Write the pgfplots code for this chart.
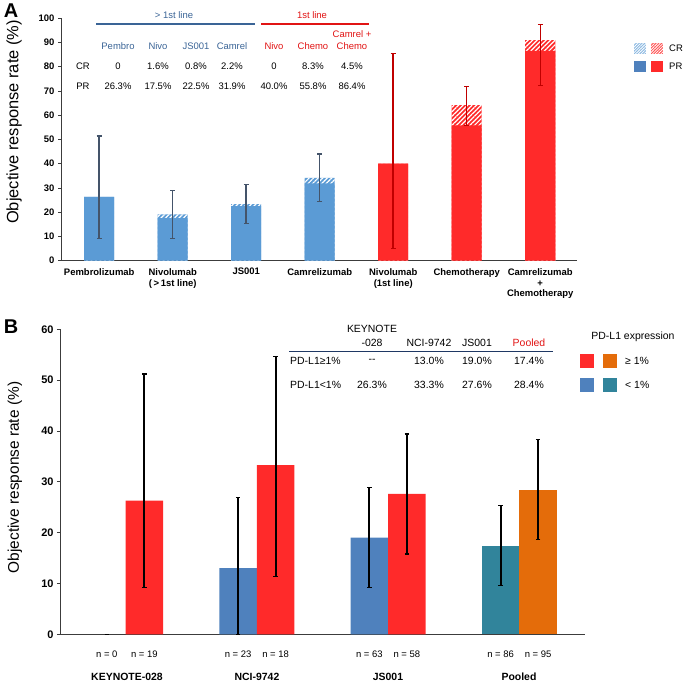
\documentclass[border=0pt]{standalone}
\usepackage{pgfplots}
\pgfplotsset{compat=1.18}
\usepackage{fontspec}
\setmainfont{Liberation Sans}
\usetikzlibrary{patterns.meta}
\definecolor{barblue}{RGB}{91,155,213}
\definecolor{barred}{RGB}{255,42,42}
\definecolor{errblue}{RGB}{68,84,106}
\definecolor{errred}{RGB}{192,0,0}
\definecolor{hdrblue}{RGB}{58,100,150}
\definecolor{hdrred}{RGB}{225,20,20}
\definecolor{Bblue}{RGB}{79,129,189}
\definecolor{Bteal}{RGB}{49,132,155}
\definecolor{Borange}{RGB}{228,108,10}
\definecolor{axgray}{RGB}{60,60,60}
\definecolor{navy}{RGB}{31,56,100}
\newcommand{\fs}[1]{\fontsize{#1}{#1}\selectfont}
\begin{document}
\begin{tikzpicture}
\path[use as bounding box] (0,0) rectangle (685bp,681bp);
% ---------------- Panel A ----------------
\begin{axis}[
  at={(61bp,420.3bp)}, anchor=south west,
  scale only axis, width=516bp, height=242.7bp,
  xmin=-0.52, xmax=6.5, ymin=0, ymax=100,
  axis x line*=bottom, axis y line*=left,
  axis line style={axgray, line width=0.8pt},
  ytick={0,10,...,100},
  /pgf/number format/assume math mode=true,
  yticklabel style={font=\fs{9.5pt}\bfseries},
  tick align=outside, major tick length=3bp,
  ytick style={axgray, line width=0.6pt},
  xtick={0,...,6},
  xticklabels={Pembrolizumab, Nivolumab\\(\,>\,1st line), JS001, Camrelizumab, Nivolumab\\(1st line), Chemotherapy, Camrelizumab\\+\\Chemotherapy},
  xticklabel style={font=\fontsize{9.5pt}{11pt}\selectfont\bfseries, align=center, yshift=-1bp},
  xtick style={draw=none},
  bar width=30bp, bar shift=0pt,
]
\addplot[ybar, fill=barblue, draw=none] coordinates {(0,26.3)(1,19.1)(2,23.3)(3,34.1)};
\addplot[ybar, fill=barred, draw=none] coordinates {(4,40.0)(5,64.1)(6,90.9)};
\addplot[ybar, draw=none, pattern={Lines[angle=45,distance=3.2pt,line width=1.2pt]}, pattern color=white]
  coordinates {(0,26.3)(1,19.1)(2,23.3)(3,34.1)(4,40.0)(5,64.1)(6,90.9)};
\addplot[ybar, fill=barblue, draw=none] coordinates {(0,26.3)(1,17.5)(2,22.5)(3,31.9)};
\addplot[ybar, fill=barred, draw=none] coordinates {(4,40.0)(5,55.8)(6,86.4)};
\addplot[draw=none, mark=none,
  error bars/.cd, y dir=both, y explicit,
  error bar style={draw=errblue, line width=1.5pt},
  error mark options={draw=errblue, rotate=90, mark size=2.5bp, line width=1.2pt}]
  coordinates {
  (0,26.3) += (0,25.1) -= (0,17.2)
  (1,19.1) += (0,9.7) -= (0,9.9)
  (2,23.3) += (0,8.0) -= (0,7.9)
  (3,34.1) += (0,9.9) -= (0,9.7)
  };
\addplot[draw=none, mark=none,
  error bars/.cd, y dir=both, y explicit,
  error bar style={draw=errred, line width=1.5pt},
  error mark options={draw=errred, rotate=90, mark size=2.5bp, line width=1.2pt}]
  coordinates {
  (4,40.0) += (0,45.3) -= (0,34.9)
  (5,64.1) += (0,7.8) -= (0,8.3)
  (6,90.9) += (0,6.5) -= (0,18.7)
  };
\end{axis}
\node[font=\fs{20pt}\bfseries] at (11bp,670.5bp) {A};
\node[rotate=90, font=\fs{16.5pt}] at (14bp,559bp) {Objective response rate (\%)};
% table A
\begin{scope}[every node/.style={font=\fs{9.5pt}}]
\node[text=hdrblue] at (174bp,666bp) {> 1st line};
\draw[hdrblue, line width=1.2pt] (96bp,657bp) -- (255bp,657bp);
\node[text=hdrred] at (312bp,666bp) {1st line};
\draw[hdrred, line width=1.2pt] (261bp,657bp) -- (369bp,657bp);
\node[text=hdrblue] at (118bp,635bp) {Pembro};
\node[text=hdrblue] at (158bp,635bp) {Nivo};
\node[text=hdrblue] at (196bp,635bp) {JS001};
\node[text=hdrblue] at (232bp,635bp) {Camrel};
\node[text=hdrred] at (274bp,635bp) {Nivo};
\node[text=hdrred] at (313bp,635bp) {Chemo};
\node[text=hdrred] at (352bp,647bp) {Camrel +};
\node[text=hdrred] at (352bp,635bp) {Chemo};
\node at (83bp,615bp) {CR};
\node at (118bp,615bp) {0};
\node at (158bp,615bp) {1.6\%};
\node at (196bp,615bp) {0.8\%};
\node at (232bp,615bp) {2.2\%};
\node at (274bp,615bp) {0};
\node at (313bp,615bp) {8.3\%};
\node at (352bp,615bp) {4.5\%};
\node at (83bp,595bp) {PR};
\node at (118bp,595bp) {26.3\%};
\node at (158bp,595bp) {17.5\%};
\node at (196bp,595bp) {22.5\%};
\node at (232bp,595bp) {31.9\%};
\node at (274bp,595bp) {40.0\%};
\node at (313bp,595bp) {55.8\%};
\node at (352bp,595bp) {86.4\%};
% legend A
\fill[barblue!70] (634bp,627bp) rectangle (646bp,638bp);
\fill[pattern={Lines[angle=45,distance=2pt,line width=0.8pt]}, pattern color=white] (634bp,627bp) rectangle (646bp,638bp);
\fill[barred!80] (651bp,627bp) rectangle (663bp,638bp);
\fill[pattern={Lines[angle=45,distance=2pt,line width=0.8pt]}, pattern color=white] (651bp,627bp) rectangle (663bp,638bp);
\fill[Bblue] (634bp,609bp) rectangle (646bp,620bp);
\fill[barred] (651bp,609bp) rectangle (663bp,620bp);
\node[anchor=west, inner sep=0pt] at (669bp,632.5bp) {CR};
\node[anchor=west, inner sep=0pt] at (669bp,614.5bp) {PR};
\end{scope}
% ---------------- Panel B ----------------
\begin{axis}[
  at={(60bp,46.7bp)}, anchor=south west,
  scale only axis, width=525bp, height=305bp,
  xmin=-0.5, xmax=3.5, ymin=0, ymax=60,
  axis x line*=bottom, axis y line*=left,
  axis line style={axgray, line width=0.8pt},
  ytick={0,10,...,60},
  /pgf/number format/assume math mode=true,
  yticklabel style={font=\fs{11pt}\bfseries},
  tick align=outside, major tick length=3bp,
  ytick style={axgray, line width=0.6pt},
  xtick={-0.143,0.143,0.857,1.143,1.857,2.143,2.857,3.143},
  xticklabels={n = 0, n = 19, n = 23, n = 18, n = 63, n = 58, n = 86, n = 95},
  xticklabel style={font=\fs{9.5pt}, yshift=-10bp},
  xtick style={draw=none},
  bar width=37.5bp, bar shift=0pt,
]
\addplot[ybar, fill=Bblue, draw=none] coordinates {(0.857,13.0)(1.857,19.0)};
\addplot[ybar, fill=Bteal, draw=none] coordinates {(2.857,17.4)};
\addplot[ybar, fill=barred, draw=none] coordinates {(0.143,26.3)(1.143,33.3)(2.143,27.6)};
\addplot[ybar, fill=Borange, draw=none] coordinates {(3.143,28.4)};
\addplot[draw=none, mark=none,
  error bars/.cd, y dir=both, y explicit,
  error bar style={draw=black, line width=2pt},
  error mark options={draw=black, rotate=90, mark size=2.2bp, line width=1.2pt}]
  coordinates {
  (-0.143,0) += (0,0) -= (0,0)
  (0.143,26.3) += (0,24.9) -= (0,17.1)
  (0.857,13.0) += (0,13.9) -= (0,13.0)
  (1.143,33.3) += (0,21.3) -= (0,22.0)
  (1.857,19.0) += (0,9.8) -= (0,9.8)
  (2.143,27.6) += (0,11.8) -= (0,11.8)
  (2.857,17.4) += (0,8.0) -= (0,7.8)
  (3.143,28.4) += (0,9.9) -= (0,9.8)
  };
\end{axis}
\node[font=\fs{20pt}\bfseries] at (11bp,354.5bp) {B};
\node[rotate=90, font=\fs{15.5pt}] at (15bp,203.5bp) {Objective response rate (\%)};
\begin{scope}[every node/.style={font=\fs{10.5pt}\bfseries}]
\node at (127bp,4.5bp) {KEYNOTE-028};
\node at (257bp,4.5bp) {NCI-9742};
\node at (388bp,4.5bp) {JS001};
\node at (519bp,4.5bp) {Pooled};
\end{scope}
% table B
\begin{scope}[every node/.style={font=\fs{10.5pt}}]
\node at (372bp,352bp) {KEYNOTE};
\node at (372bp,338.3bp) {-028};
\node at (429bp,338.3bp) {NCI-9742};
\node at (477bp,338.3bp) {JS001};
\node[text=hdrred] at (529bp,338.3bp) {Pooled};
\draw[navy, line width=1.3pt] (289bp,329.3bp) -- (553bp,329.3bp);
\node[anchor=west, inner sep=0pt] at (290bp,320.3bp) {PD-L1≥1\%};
\node at (372bp,320.3bp) {-{}-};
\node at (429bp,320.3bp) {13.0\%};
\node at (477bp,320.3bp) {19.0\%};
\node at (529bp,320.3bp) {17.4\%};
\node[anchor=west, inner sep=0pt] at (290bp,296bp) {PD-L1<1\%};
\node at (372bp,296bp) {26.3\%};
\node at (429bp,296bp) {33.3\%};
\node at (477bp,296bp) {27.6\%};
\node at (529bp,296bp) {28.4\%};
% legend B
\node at (633bp,344bp) {PD-L1 expression};
\fill[barred] (580bp,313bp) rectangle (594bp,327bp);
\fill[Borange] (603bp,313bp) rectangle (617bp,327bp);
\fill[Bblue] (580bp,289bp) rectangle (594bp,303bp);
\fill[Bteal] (603bp,289bp) rectangle (617bp,303bp);
\node[anchor=west, inner sep=0pt] at (625bp,320.3bp) {≥ 1\%};
\node[anchor=west, inner sep=0pt] at (625bp,296bp) {< 1\%};
\end{scope}
\end{tikzpicture}
\end{document}
